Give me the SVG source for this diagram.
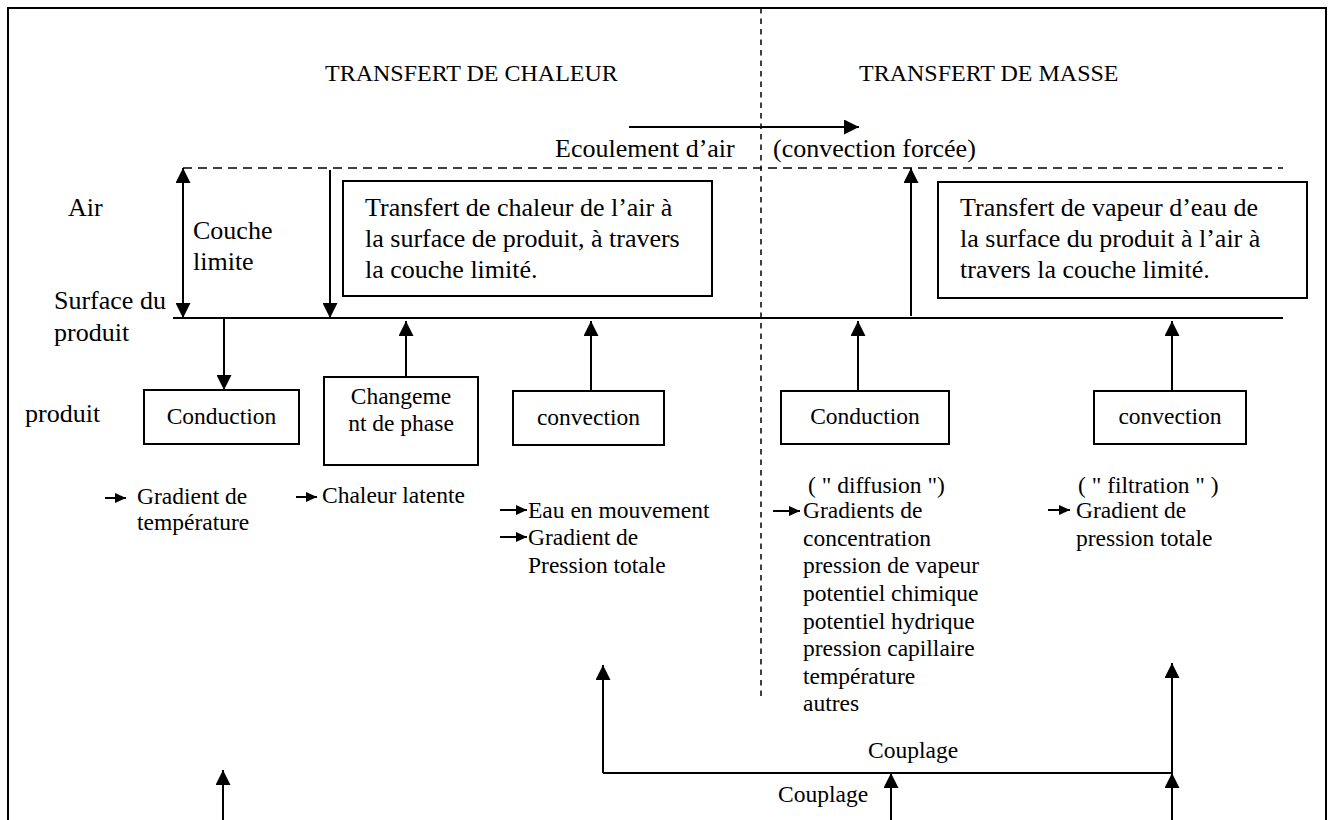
<svg xmlns="http://www.w3.org/2000/svg" width="1331" height="820" viewBox="0 0 1331 820">
<style>
text{font-family:"Liberation Serif","Times New Roman",serif;fill:#000}
.t{font-family:"Liberation Serif","Times New Roman",serif;font-size:24px}
.b{font-family:"Liberation Serif","Times New Roman",serif;font-size:26px}
.s{font-family:"Liberation Serif","Times New Roman",serif;font-size:23.5px}
.m{text-anchor:middle}
.ln{stroke:#000;stroke-width:2;fill:none}
.box{stroke:#000;stroke-width:2;fill:#fff}
.dh{stroke:#000;stroke-width:1.5;stroke-dasharray:9 6;fill:none}
.dv{stroke:#000;stroke-width:1.5;stroke-dasharray:5.5 5;fill:none}
.a{marker-end:url(#ah)}
.sa{marker-end:url(#sh)}
</style>
<defs>
<marker id="ah" markerUnits="userSpaceOnUse" markerWidth="15" markerHeight="15" refX="15" refY="7.5" orient="auto-start-reverse" viewBox="0 0 15 15"><path d="M0,0 L15,7.5 L0,15 z" fill="#000"/></marker>
<marker id="sh" markerUnits="userSpaceOnUse" markerWidth="11" markerHeight="10" refX="11" refY="5" orient="auto" viewBox="0 0 11 10"><path d="M0,0 L11,5 L0,10 z" fill="#000"/></marker>
</defs>
<rect x="0" y="0" width="1331" height="820" fill="#fff"/>
<rect x="8" y="8" width="1318" height="840" class="ln"/>

<g id="titles">
<text class="t" x="325" y="81">TRANSFERT DE CHALEUR</text>
<text class="t" x="859" y="81">TRANSFERT DE MASSE</text>
<text class="b" x="555" y="157">Ecoulement d’air</text>
<text class="b" x="773" y="157">(convection forcée)</text>
</g>

<g id="labels">
<text class="b" x="68" y="216">Air</text>
<text class="b" x="193" y="239">Couche</text>
<text class="b" x="193" y="270">limite</text>
<text class="b" x="54" y="309">Surface du</text>
<text class="b" x="54" y="341">produit</text>
<text class="b" x="25" y="422">produit</text>
</g>

<g id="connectors">
<line x1="761" y1="8" x2="761" y2="700" class="dv"/>
<line x1="183" y1="168" x2="1283" y2="168" class="dh"/>
<line x1="629" y1="127" x2="859" y2="127" class="ln a"/>
<line x1="173" y1="318" x2="1283" y2="318" class="ln"/>
<line x1="183" y1="168" x2="183" y2="318" class="ln" marker-start="url(#ah)" marker-end="url(#ah)"/>
<line x1="330" y1="170" x2="330" y2="318" class="ln a"/>
<line x1="911" y1="316" x2="911" y2="168" class="ln a"/>
<line x1="224" y1="319" x2="224" y2="390" class="ln a"/>
<line x1="406" y1="377" x2="406" y2="321" class="ln a"/>
<line x1="591" y1="391" x2="591" y2="321" class="ln a"/>
<line x1="858" y1="391" x2="858" y2="321" class="ln a"/>
<line x1="1172" y1="391" x2="1172" y2="321" class="ln a"/>
<line x1="105" y1="498" x2="126" y2="498" class="ln sa"/>
<line x1="296" y1="497" x2="317" y2="497" class="ln sa"/>
<line x1="500" y1="510" x2="527" y2="510" class="ln sa"/>
<line x1="500" y1="537" x2="527" y2="537" class="ln sa"/>
<line x1="773" y1="511" x2="800" y2="511" class="ln sa"/>
<line x1="1048" y1="510" x2="1070" y2="510" class="ln sa"/>
<line x1="223" y1="830" x2="223" y2="770" class="ln a"/>
<line x1="603" y1="773" x2="603" y2="665" class="ln a"/>
<line x1="603" y1="773" x2="1172" y2="773" class="ln"/>
<line x1="1172" y1="773" x2="1172" y2="663" class="ln a"/>
<line x1="1172" y1="830" x2="1172" y2="773" class="ln a"/>
<line x1="891" y1="830" x2="891" y2="773" class="ln a"/>
</g>

<g id="box-heat">
<rect x="343" y="181" width="369" height="115" class="box"/>
<text class="b" x="365" y="216">Transfert de chaleur de l’air à</text>
<text class="b" x="365" y="247">la surface de produit, à travers</text>
<text class="b" x="365" y="278">la couche limité.</text>
</g>

<g id="box-mass">
<rect x="938" y="182" width="369" height="116" class="box"/>
<text class="b" x="960" y="216">Transfert de vapeur d’eau de</text>
<text class="b" x="960" y="247">la surface du produit à l’air à</text>
<text class="b" x="960" y="278">travers la couche limité.</text>
</g>

<g id="conduction-heat">
<rect x="144" y="390" width="155" height="54" class="box"/>
<text class="s m" x="221.5" y="424">Conduction</text>
</g>

<g id="phase-change">
<rect x="324" y="377" width="154" height="88" class="box"/>
<text class="s m" x="401" y="404">Changeme</text>
<text class="s m" x="401" y="431">nt de phase</text>
</g>

<g id="convection-heat">
<rect x="513" y="391" width="151" height="54" class="box"/>
<text class="s m" x="588.5" y="425">convection</text>
</g>

<g id="conduction-mass">
<rect x="781" y="391" width="168" height="53" class="box"/>
<text class="s m" x="865" y="424">Conduction</text>
</g>

<g id="convection-mass">
<rect x="1094" y="391" width="152" height="53" class="box"/>
<text class="s m" x="1170" y="424">convection</text>
</g>

<g id="notes">
<text class="s" x="137" y="504">Gradient de</text>
<text class="s" x="137" y="530">température</text>
<text class="s" x="322" y="503">Chaleur latente</text>
<text class="s" x="528" y="518">Eau en mouvement</text>
<text class="s" x="528" y="545">Gradient de</text>
<text class="s" x="528" y="573">Pression totale</text>
<text class="s" x="808" y="493">( " diffusion ")</text>
<text class="s" x="803" y="518">Gradients de</text>
<text class="s" x="803" y="546">concentration</text>
<text class="s" x="803" y="573">pression de vapeur</text>
<text class="s" x="803" y="601">potentiel chimique</text>
<text class="s" x="803" y="629">potentiel hydrique</text>
<text class="s" x="803" y="656">pression capillaire</text>
<text class="s" x="803" y="684">température</text>
<text class="s" x="803" y="711">autres</text>
<text class="s" x="1078" y="493">( " filtration " )</text>
<text class="s" x="1076" y="518">Gradient de</text>
<text class="s" x="1076" y="546">pression totale</text>
<text class="s" x="868" y="758">Couplage</text>
<text class="s" x="778" y="802">Couplage</text>
</g>
</svg>
